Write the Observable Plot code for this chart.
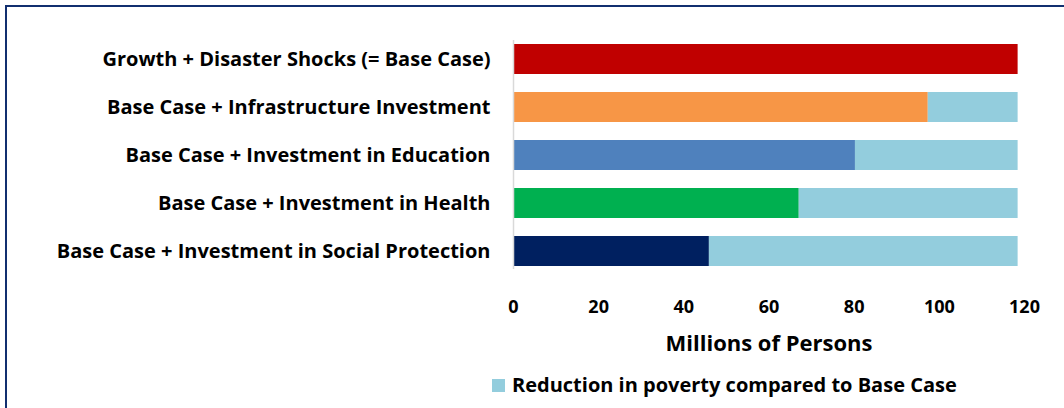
<!DOCTYPE html>
<html>
<head>
<meta charset="utf-8">
<script src="https://cdn.jsdelivr.net/npm/d3@7"></script>
<script src="https://cdn.jsdelivr.net/npm/@observablehq/plot@0.6"></script>
<style>
  html, body { margin: 0; padding: 0; background: #fff; overflow: hidden; }
  #wrap { position: relative; width: 1064px; height: 408px; overflow: hidden; font-family: "Open Sans", Lato, sans-serif; }
  #frame { position: absolute; left: 5px; top: 5px; width: 1200px; height: 1200px; border-top: 2.5px solid #112f6f; border-left: 2.5px solid #112f6f; pointer-events: none; z-index: 2; }
  #chart { position: absolute; left: 0; top: 0; }
  #legend { position: absolute; left: 492px; top: 371px; display: flex; align-items: center; font-weight: bold; font-size: 20px; line-height: 28px; color: #000; }
  #legend .sw { width: 13px; height: 13px; background: #93cddd; margin-right: 7px; }
</style>
</head>
<body>
<div id="wrap">
  <div id="chart"></div>
  <div id="legend"><span class="sw"></span><span>Reduction in poverty compared to Base Case</span></div>
  <div id="frame"></div>
</div>
<script>
const categories = [
  "Growth + Disaster Shocks (= Base Case)",
  "Base Case + Infrastructure Investment",
  "Base Case + Investment in Education",
  "Base Case + Investment in Health",
  "Base Case + Investment in Social Protection"
];
const values = [118.5, 97.4, 80.3, 67.1, 46.0];
const baseCase = 118.5;
const colors = ["#c00000", "#f79646", "#4f81bd", "#00b050", "#002060"];
const reductionColor = "#93cddd";
const xTicks = [0, 20, 40, 60, 80, 100, 120];
const xLabel = "Millions of Persons";

const data = categories.map((c, i) => ({cat: c, value: values[i], color: colors[i], base: baseCase}));

const chart = Plot.plot({
  width: 1064,
  height: 360,
  marginLeft: 513,
  marginRight: 40,
  marginTop: 35,
  marginBottom: 85,
  style: {background: "transparent", fontFamily: "'Open Sans', Lato, sans-serif", color: "#000"},
  x: {domain: [0, 120]},
  y: {domain: categories, paddingInner: 0.375, paddingOuter: 0.1875},
  color: {type: "identity"},
  marks: [
    Plot.barX(data, {y: "cat", x1: 0, x2: "value", fill: "color"}),
    Plot.barX(data, {y: "cat", x1: "value", x2: "base", fill: reductionColor}),
    Plot.ruleX([0], {stroke: "#d9d9d9", strokeWidth: 1.5, insetTop: 5, insetBottom: 6}),
    Plot.axisY({tickSize: 0, tickPadding: 23, fontSize: 20, fontWeight: "bold", label: null}),
    Plot.axisX({ticks: xTicks, tickSize: 0, tickPadding: 25, fontSize: 18, fontWeight: "bold", label: null}),
    Plot.text([xLabel], {frameAnchor: "bottom", dy: 75, fontSize: 22, fontWeight: "bold", fill: "#000"})
  ]
});
document.getElementById("chart").appendChild(chart);
</script>
</body>
</html>
